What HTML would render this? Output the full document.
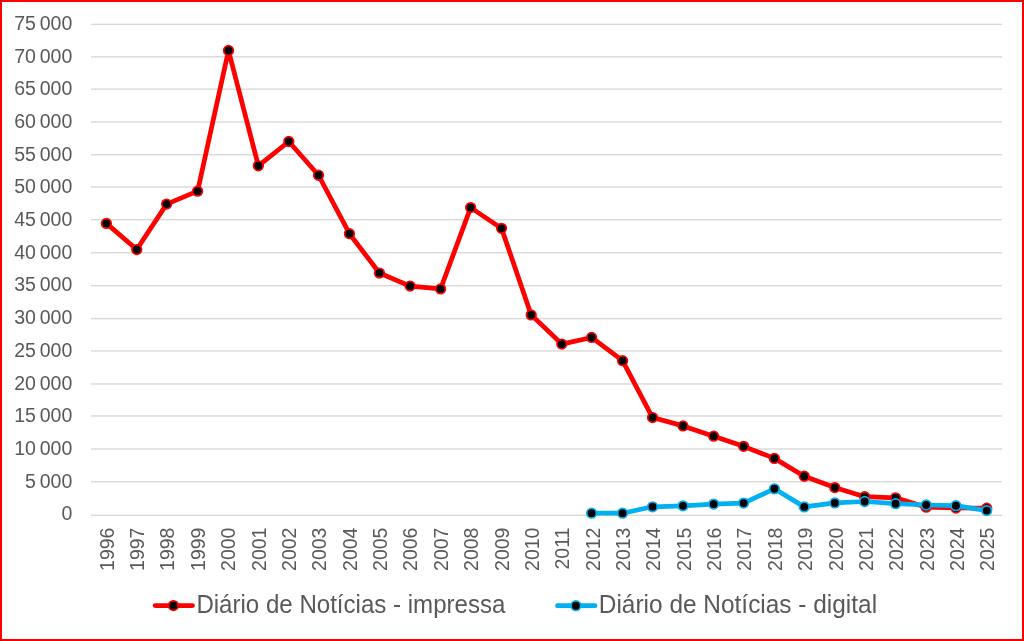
<!DOCTYPE html>
<html><head><meta charset="utf-8"><style>
html,body{margin:0;padding:0;background:#fff;}
body{width:1024px;height:641px;overflow:hidden;position:relative;}
svg{position:absolute;left:0;top:0;display:block;will-change:transform;}
text{font-family:"Liberation Sans",sans-serif;font-size:20.0px;fill:#595959;}
text.lg{font-size:25px;}
</style></head><body>
<svg width="1024" height="641" viewBox="0 0 1024 641">
<rect x="0" y="0" width="1024" height="641" fill="#fff"/>
<rect x="91" y="23.67" width="911" height="1.4" fill="#D9D9D9"/>
<rect x="91" y="56.13" width="911" height="1.4" fill="#D9D9D9"/>
<rect x="91" y="88.43" width="911" height="1.4" fill="#D9D9D9"/>
<rect x="91" y="121.27" width="911" height="1.4" fill="#D9D9D9"/>
<rect x="91" y="154.05" width="911" height="1.4" fill="#D9D9D9"/>
<rect x="91" y="186.27" width="911" height="1.4" fill="#D9D9D9"/>
<rect x="91" y="219.00" width="911" height="1.4" fill="#D9D9D9"/>
<rect x="91" y="252.10" width="911" height="1.4" fill="#D9D9D9"/>
<rect x="91" y="285.00" width="911" height="1.4" fill="#D9D9D9"/>
<rect x="91" y="317.88" width="911" height="1.4" fill="#D9D9D9"/>
<rect x="91" y="350.25" width="911" height="1.4" fill="#D9D9D9"/>
<rect x="91" y="383.27" width="911" height="1.4" fill="#D9D9D9"/>
<rect x="91" y="415.25" width="911" height="1.4" fill="#D9D9D9"/>
<rect x="91" y="448.27" width="911" height="1.4" fill="#D9D9D9"/>
<rect x="91" y="481.03" width="911" height="1.4" fill="#D9D9D9"/>
<rect x="91" y="514.60" width="911" height="1.4" fill="#D9D9D9"/>
<text transform="translate(72.3,29.80) scale(0.975,1)" text-anchor="end">75 000</text>
<text transform="translate(72.3,62.51) scale(0.975,1)" text-anchor="end">70 000</text>
<text transform="translate(72.3,95.22) scale(0.975,1)" text-anchor="end">65 000</text>
<text transform="translate(72.3,127.93) scale(0.975,1)" text-anchor="end">60 000</text>
<text transform="translate(72.3,160.64) scale(0.975,1)" text-anchor="end">55 000</text>
<text transform="translate(72.3,193.35) scale(0.975,1)" text-anchor="end">50 000</text>
<text transform="translate(72.3,226.06) scale(0.975,1)" text-anchor="end">45 000</text>
<text transform="translate(72.3,258.77) scale(0.975,1)" text-anchor="end">40 000</text>
<text transform="translate(72.3,291.48) scale(0.975,1)" text-anchor="end">35 000</text>
<text transform="translate(72.3,324.19) scale(0.975,1)" text-anchor="end">30 000</text>
<text transform="translate(72.3,356.90) scale(0.975,1)" text-anchor="end">25 000</text>
<text transform="translate(72.3,389.61) scale(0.975,1)" text-anchor="end">20 000</text>
<text transform="translate(72.3,422.32) scale(0.975,1)" text-anchor="end">15 000</text>
<text transform="translate(72.3,455.03) scale(0.975,1)" text-anchor="end">10 000</text>
<text transform="translate(72.3,487.74) scale(0.975,1)" text-anchor="end">5 000</text>
<text transform="translate(72.3,520.45) scale(0.975,1)" text-anchor="end">0</text>
<text transform="translate(113.73,527.55) rotate(-90) scale(0.975,1)" text-anchor="end">1996</text>
<text transform="translate(144.10,527.55) rotate(-90) scale(0.975,1)" text-anchor="end">1997</text>
<text transform="translate(174.47,527.55) rotate(-90) scale(0.975,1)" text-anchor="end">1998</text>
<text transform="translate(204.83,527.55) rotate(-90) scale(0.975,1)" text-anchor="end">1999</text>
<text transform="translate(235.20,527.55) rotate(-90) scale(0.975,1)" text-anchor="end">2000</text>
<text transform="translate(265.57,527.55) rotate(-90) scale(0.975,1)" text-anchor="end">2001</text>
<text transform="translate(295.93,527.55) rotate(-90) scale(0.975,1)" text-anchor="end">2002</text>
<text transform="translate(326.30,527.55) rotate(-90) scale(0.975,1)" text-anchor="end">2003</text>
<text transform="translate(356.67,527.55) rotate(-90) scale(0.975,1)" text-anchor="end">2004</text>
<text transform="translate(387.03,527.55) rotate(-90) scale(0.975,1)" text-anchor="end">2005</text>
<text transform="translate(417.40,527.55) rotate(-90) scale(0.975,1)" text-anchor="end">2006</text>
<text transform="translate(447.77,527.55) rotate(-90) scale(0.975,1)" text-anchor="end">2007</text>
<text transform="translate(478.13,527.55) rotate(-90) scale(0.975,1)" text-anchor="end">2008</text>
<text transform="translate(508.50,527.55) rotate(-90) scale(0.975,1)" text-anchor="end">2009</text>
<text transform="translate(538.87,527.55) rotate(-90) scale(0.975,1)" text-anchor="end">2010</text>
<text transform="translate(569.23,527.55) rotate(-90) scale(0.975,1)" text-anchor="end">2011</text>
<text transform="translate(599.60,527.55) rotate(-90) scale(0.975,1)" text-anchor="end">2012</text>
<text transform="translate(629.97,527.55) rotate(-90) scale(0.975,1)" text-anchor="end">2013</text>
<text transform="translate(660.33,527.55) rotate(-90) scale(0.975,1)" text-anchor="end">2014</text>
<text transform="translate(690.70,527.55) rotate(-90) scale(0.975,1)" text-anchor="end">2015</text>
<text transform="translate(721.07,527.55) rotate(-90) scale(0.975,1)" text-anchor="end">2016</text>
<text transform="translate(751.43,527.55) rotate(-90) scale(0.975,1)" text-anchor="end">2017</text>
<text transform="translate(781.80,527.55) rotate(-90) scale(0.975,1)" text-anchor="end">2018</text>
<text transform="translate(812.17,527.55) rotate(-90) scale(0.975,1)" text-anchor="end">2019</text>
<text transform="translate(842.53,527.55) rotate(-90) scale(0.975,1)" text-anchor="end">2020</text>
<text transform="translate(872.90,527.55) rotate(-90) scale(0.975,1)" text-anchor="end">2021</text>
<text transform="translate(903.27,527.55) rotate(-90) scale(0.975,1)" text-anchor="end">2022</text>
<text transform="translate(933.63,527.55) rotate(-90) scale(0.975,1)" text-anchor="end">2023</text>
<text transform="translate(964.00,527.55) rotate(-90) scale(0.975,1)" text-anchor="end">2024</text>
<text transform="translate(994.37,527.55) rotate(-90) scale(0.975,1)" text-anchor="end">2025</text>
<polyline points="106.40,223.40 136.75,249.56 166.62,204.10 197.60,191.14 228.50,50.50 258.36,165.80 288.80,141.50 318.52,175.24 349.45,233.70 379.43,273.06 410.08,286.08 440.61,288.89 470.64,207.61 501.55,228.36 531.20,314.90 561.80,344.08 591.61,337.45 622.55,360.70 652.55,417.55 682.98,425.89 713.64,436.17 743.61,446.36 774.40,458.40 804.27,476.27 834.80,487.60 864.66,496.70 895.60,497.80 926.20,507.20 955.90,508.00 986.70,508.20" fill="none" stroke="#FF0000" stroke-width="4.75" stroke-linejoin="round" stroke-linecap="round"/>
<circle cx="106.40" cy="223.40" r="4.8" fill="#000" stroke="#FF0000" stroke-width="1.7"/>
<circle cx="136.75" cy="249.56" r="4.8" fill="#000" stroke="#FF0000" stroke-width="1.7"/>
<circle cx="166.62" cy="204.10" r="4.8" fill="#000" stroke="#FF0000" stroke-width="1.7"/>
<circle cx="197.60" cy="191.14" r="4.8" fill="#000" stroke="#FF0000" stroke-width="1.7"/>
<circle cx="228.50" cy="50.50" r="4.8" fill="#000" stroke="#FF0000" stroke-width="1.7"/>
<circle cx="258.36" cy="165.80" r="4.8" fill="#000" stroke="#FF0000" stroke-width="1.7"/>
<circle cx="288.80" cy="141.50" r="4.8" fill="#000" stroke="#FF0000" stroke-width="1.7"/>
<circle cx="318.52" cy="175.24" r="4.8" fill="#000" stroke="#FF0000" stroke-width="1.7"/>
<circle cx="349.45" cy="233.70" r="4.8" fill="#000" stroke="#FF0000" stroke-width="1.7"/>
<circle cx="379.43" cy="273.06" r="4.8" fill="#000" stroke="#FF0000" stroke-width="1.7"/>
<circle cx="410.08" cy="286.08" r="4.8" fill="#000" stroke="#FF0000" stroke-width="1.7"/>
<circle cx="440.61" cy="288.89" r="4.8" fill="#000" stroke="#FF0000" stroke-width="1.7"/>
<circle cx="470.64" cy="207.61" r="4.8" fill="#000" stroke="#FF0000" stroke-width="1.7"/>
<circle cx="501.55" cy="228.36" r="4.8" fill="#000" stroke="#FF0000" stroke-width="1.7"/>
<circle cx="531.20" cy="314.90" r="4.8" fill="#000" stroke="#FF0000" stroke-width="1.7"/>
<circle cx="561.80" cy="344.08" r="4.8" fill="#000" stroke="#FF0000" stroke-width="1.7"/>
<circle cx="591.61" cy="337.45" r="4.8" fill="#000" stroke="#FF0000" stroke-width="1.7"/>
<circle cx="622.55" cy="360.70" r="4.8" fill="#000" stroke="#FF0000" stroke-width="1.7"/>
<circle cx="652.55" cy="417.55" r="4.8" fill="#000" stroke="#FF0000" stroke-width="1.7"/>
<circle cx="682.98" cy="425.89" r="4.8" fill="#000" stroke="#FF0000" stroke-width="1.7"/>
<circle cx="713.64" cy="436.17" r="4.8" fill="#000" stroke="#FF0000" stroke-width="1.7"/>
<circle cx="743.61" cy="446.36" r="4.8" fill="#000" stroke="#FF0000" stroke-width="1.7"/>
<circle cx="774.40" cy="458.40" r="4.8" fill="#000" stroke="#FF0000" stroke-width="1.7"/>
<circle cx="804.27" cy="476.27" r="4.8" fill="#000" stroke="#FF0000" stroke-width="1.7"/>
<circle cx="834.80" cy="487.60" r="4.8" fill="#000" stroke="#FF0000" stroke-width="1.7"/>
<circle cx="864.66" cy="496.70" r="4.8" fill="#000" stroke="#FF0000" stroke-width="1.7"/>
<circle cx="895.60" cy="497.80" r="4.8" fill="#000" stroke="#FF0000" stroke-width="1.7"/>
<circle cx="926.20" cy="507.20" r="4.8" fill="#000" stroke="#FF0000" stroke-width="1.7"/>
<circle cx="955.90" cy="508.00" r="4.8" fill="#000" stroke="#FF0000" stroke-width="1.7"/>
<circle cx="986.70" cy="508.20" r="4.8" fill="#000" stroke="#FF0000" stroke-width="1.7"/>
<polyline points="591.61,513.20 622.55,513.20 652.55,506.80 682.98,505.86 713.64,504.10 743.61,503.10 774.40,488.80 804.27,506.90 834.80,502.90 864.66,501.50 895.60,503.70 926.20,505.00 955.90,505.70 986.70,510.60" fill="none" stroke="#00B0F0" stroke-width="4.75" stroke-linejoin="round" stroke-linecap="round"/>
<circle cx="591.61" cy="513.20" r="4.8" fill="#000" stroke="#00B0F0" stroke-width="1.7"/>
<circle cx="622.55" cy="513.20" r="4.8" fill="#000" stroke="#00B0F0" stroke-width="1.7"/>
<circle cx="652.55" cy="506.80" r="4.8" fill="#000" stroke="#00B0F0" stroke-width="1.7"/>
<circle cx="682.98" cy="505.86" r="4.8" fill="#000" stroke="#00B0F0" stroke-width="1.7"/>
<circle cx="713.64" cy="504.10" r="4.8" fill="#000" stroke="#00B0F0" stroke-width="1.7"/>
<circle cx="743.61" cy="503.10" r="4.8" fill="#000" stroke="#00B0F0" stroke-width="1.7"/>
<circle cx="774.40" cy="488.80" r="4.8" fill="#000" stroke="#00B0F0" stroke-width="1.7"/>
<circle cx="804.27" cy="506.90" r="4.8" fill="#000" stroke="#00B0F0" stroke-width="1.7"/>
<circle cx="834.80" cy="502.90" r="4.8" fill="#000" stroke="#00B0F0" stroke-width="1.7"/>
<circle cx="864.66" cy="501.50" r="4.8" fill="#000" stroke="#00B0F0" stroke-width="1.7"/>
<circle cx="895.60" cy="503.70" r="4.8" fill="#000" stroke="#00B0F0" stroke-width="1.7"/>
<circle cx="926.20" cy="505.00" r="4.8" fill="#000" stroke="#00B0F0" stroke-width="1.7"/>
<circle cx="955.90" cy="505.70" r="4.8" fill="#000" stroke="#00B0F0" stroke-width="1.7"/>
<circle cx="986.70" cy="510.60" r="4.8" fill="#000" stroke="#00B0F0" stroke-width="1.7"/>
<line x1="155.1" y1="605.6" x2="192.5" y2="605.6" stroke="#FF0000" stroke-width="4.75" stroke-linecap="round"/>
<circle cx="173.4" cy="605.6" r="4.8" fill="#000" stroke="#FF0000" stroke-width="1.7"/>
<text x="196.4" y="612.9" class="lg" textLength="309.0" lengthAdjust="spacingAndGlyphs">Diário de Notícias - impressa</text>
<line x1="557.5" y1="605.7" x2="595" y2="605.7" stroke="#00B0F0" stroke-width="4.75" stroke-linecap="round"/>
<circle cx="575.9" cy="605.7" r="4.8" fill="#000" stroke="#00B0F0" stroke-width="1.7"/>
<text x="598.8" y="612.9" class="lg" textLength="278.3" lengthAdjust="spacingAndGlyphs">Diário de Notícias - digital</text>
<rect x="1" y="1" width="1022" height="639" fill="none" stroke="#FF0000" stroke-width="2"/>
<rect x="0" y="0" width="1" height="1" fill="#2a0000"/>
<rect x="1023" y="640" width="1" height="1" fill="#d01010"/>
<rect x="1023" y="0" width="1" height="1" fill="#2a0000"/>
<rect x="0" y="640" width="1" height="1" fill="#900000"/>
</svg>
</body></html>
